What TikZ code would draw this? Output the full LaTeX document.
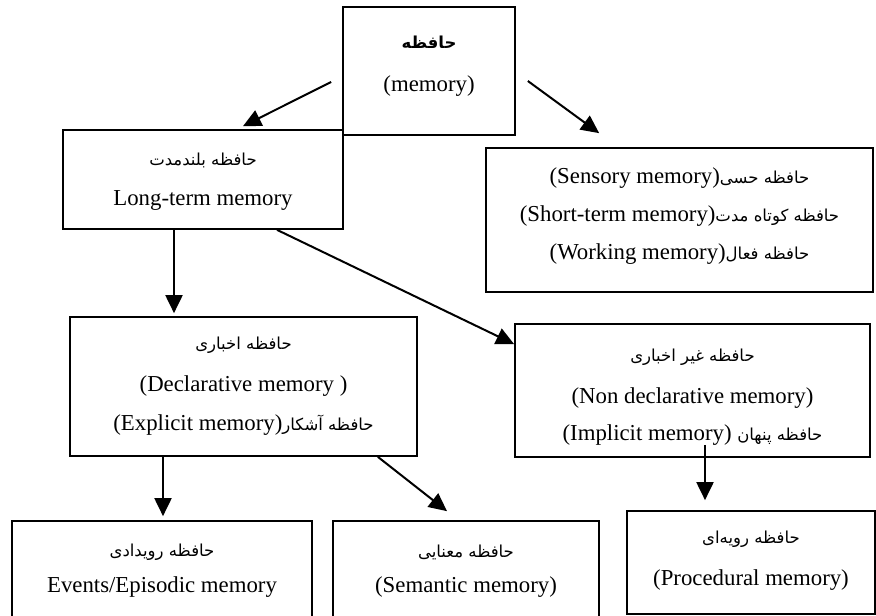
\documentclass[tikz,border=0pt]{standalone}
\usepackage{fontspec}
\setmainfont{Liberation Serif}
\newfontfamily\fa[Script=Arabic]{DejaVu Sans}
\TeXXeTstate=1
\usetikzlibrary{arrows.meta}
\newcommand\fat[1]{{\fa\fontsize{16.5}{19}\selectfont\beginR #1\endR}}
\newcommand\fab[1]{{\fa\bfseries\fontsize{16.5}{19}\selectfont\beginR #1\endR}}
\begin{document}
\begin{tikzpicture}[x=1pt,y=-1pt,
  every node/.style={font=\fontsize{22.8}{27}\selectfont, inner sep=0pt},
  box/.style={draw, line width=1.7pt},
  arr/.style={line width=2pt, -{Triangle[length=18pt,width=17pt]}}]
\useasboundingbox (0,0) rectangle (876,616);
% boxes
\node[box, minimum width=172pt, minimum height=128pt] (mem)  at (429,71) {};
\node[box, minimum width=280pt, minimum height=99pt]  (lt)   at (203,179.5) {};
\node[box, minimum width=387pt, minimum height=144pt] (sens) at (679.5,220) {};
\node[box, minimum width=347pt, minimum height=139pt] (decl) at (243.5,386.5) {};
\node[box, minimum width=355pt, minimum height=133pt] (nond) at (692.5,390.5) {};
\node[box, minimum width=300pt, minimum height=98pt]  (ev)   at (162,570) {};
\node[box, minimum width=266pt, minimum height=98pt]  (sem)  at (466,570) {};
\node[box, minimum width=248pt, minimum height=103pt] (proc) at (751,562.5) {};
% texts
\node (memA) at (429,42) {\fab{حافظه}};
\node (memB) at (429,86) {(memory)};
\node (ltA) at (203,160) {\fat{حافظه بلندمدت}};
\node (ltB) at (203,200) {Long-term memory};
\node (sensA) at (679.5,178) {(Sensory memory)\fat{حافظه حسی}};
\node (sensB) at (679.5,216) {(Short-term memory)\fat{حافظه کوتاه مدت}};
\node (sensC) at (679.5,254) {(Working memory)\fat{حافظه فعال}};
\node (declA) at (243.5,345) {\fat{حافظه اخباری}};
\node (declB) at (243.5,386) {(Declarative memory )};
\node (declC) at (243.5,425) {(Explicit memory)\fat{حافظه آشکار}};
\node (nondA) at (692.5,357) {\fat{حافظه غیر اخباری}};
\node (nondB) at (692.5,398) {(Non declarative memory)};
\node (nondC) at (692.5,435) {(Implicit memory) \fat{حافظه پنهان}};
\node (evA) at (162,552) {\fat{حافظه رویدادی}};
\node (evB) at (162,587) {Events/Episodic memory};
\node (semA) at (466,552) {\fat{حافظه معنایی}};
\node (semB) at (466,587) {(Semantic memory)};
\node (procA) at (751,539) {\fat{حافظه رویه‌ای}};
\node (procB) at (751,580) {(Procedural memory)};
% connectors
\draw[arr] ([xshift=-11pt,yshift=-11pt]mem.west) -- ([xshift=40pt,yshift=3pt]lt.north);
\draw[arr] ([xshift=12pt,yshift=-10pt]mem.east) -- ([xshift=114pt,yshift=14pt]sens.north west);
\draw[arr] ([xshift=-29pt]lt.south) -- ([xshift=-69.5pt,yshift=3pt]decl.north);
\draw[arr] ([xshift=74pt]lt.south) -- ([yshift=-21pt]nond.north west);
\draw[arr] ([xshift=-80.5pt]decl.south) -- ([xshift=1pt,yshift=4pt]ev.north);
\draw[arr] ([xshift=-40pt]decl.south east) -- ([xshift=-19pt,yshift=9pt]sem.north);
\draw[arr] ([xshift=12.5pt,yshift=13pt]nond.south) -- ([xshift=-46pt,yshift=10pt]proc.north);
\end{tikzpicture}
\end{document}
